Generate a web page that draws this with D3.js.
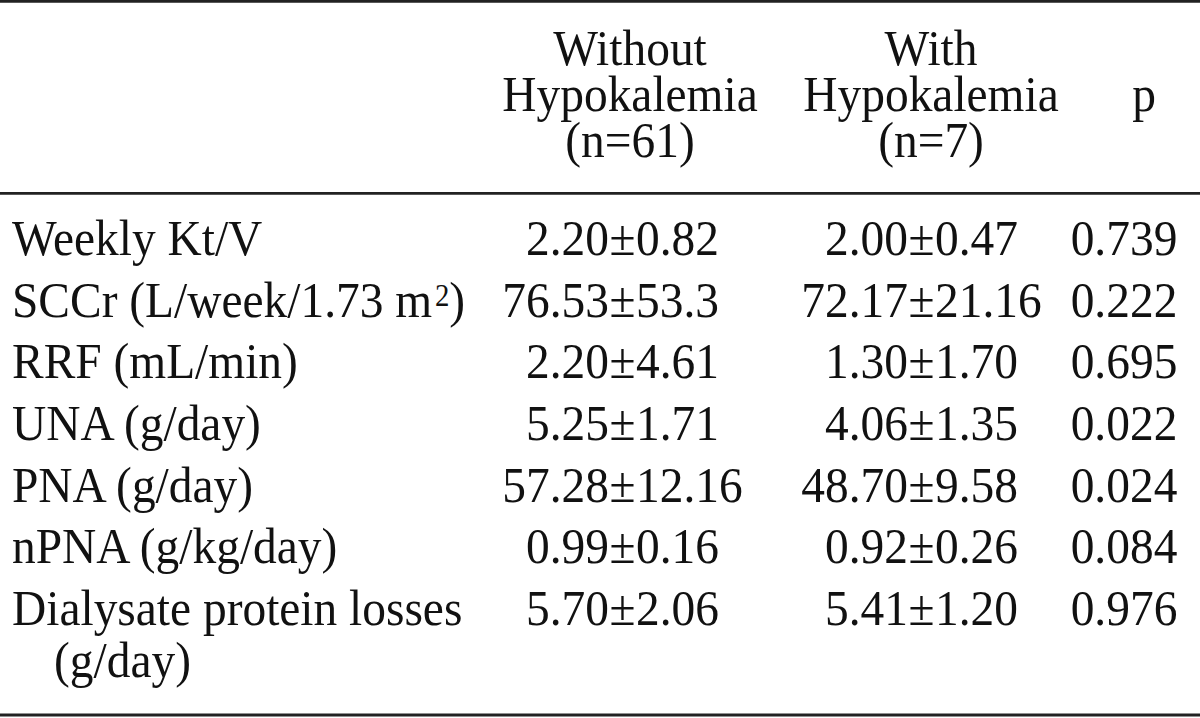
<!DOCTYPE html>
<html>
<head>
<meta charset="utf-8">
<script src="https://cdn.jsdelivr.net/npm/d3@7"></script>
<style>
  body { margin: 0; background: #fff; }
  text { font-family: "Liberation Serif", "Times New Roman", serif; fill: #111; }
</style>
</head>
<body>
<div id="table"></div>
<script>
// table values
var rowLabels = ['Weekly Kt/V', 'SCCr (L/week/1.73 m', 'RRF (mL/min)', 'UNA (g/day)',
  'PNA (g/day)', 'nPNA (g/kg/day)', 'Dialysate protein losses'];
var withoutMean = ['2.20', '76.53', '2.20', '5.25', '57.28', '0.99', '5.70'];
var withoutSD   = ['0.82', '53.3', '4.61', '1.71', '12.16', '0.16', '2.06'];
var withMean    = ['2.00', '72.17', '1.30', '4.06', '48.70', '0.92', '5.41'];
var withSD      = ['0.47', '21.16', '1.70', '1.35', '9.58', '0.26', '1.20'];
var pValues     = ['0.739', '0.222', '0.695', '0.022', '0.024', '0.084', '0.976'];

var headWithout = ['Without', 'Hypokalemia', '(n=61)'];
var headWith    = ['With', 'Hypokalemia', '(n=7)'];

var svgWidth = 1200;
var svgHeight = 718;
var fontSize = 51;
// the printed face is a little narrower than Liberation Serif
var squeeze = 0.93;

var svg = d3.select('#table')
  .append('svg')
  .attr('width', svgWidth)
  .attr('height', svgHeight);

// row baselines and header line baselines
var rowY = d3.scaleLinear().domain([0, rowLabels.length - 1]).range([255, 625]);
var headY = d3.scaleLinear().domain([0, 2]).range([65, 157]);

// column anchors (x of the ± sign for value columns)
var colX = d3.scaleOrdinal()
  .domain(['label', 'without', 'with', 'p', 'headWithout', 'headWith'])
  .range([12, 622.5, 921.5, 1124, 630, 931]);

// put a text at x,y with the horizontal squeeze
function addText(x, y, anchor, str) {
  return svg.append('text')
    .attr('transform', `translate(${x}, ${y}) scale(${squeeze}, 1)`)
    .attr('text-anchor', anchor)
    .attr('font-size', fontSize)
    .text(str);
}

// rules
[1.4, 193.3, 715].forEach(function(y) {
  svg.append('line')
    .attr('x1', 0).attr('x2', svgWidth)
    .attr('y1', y).attr('y2', y)
    .attr('stroke', '#222')
    .attr('stroke-width', 2.8);
});

// header
headWithout.forEach((d, i) => addText(colX('headWithout'), headY(i), 'middle', d));
headWith.forEach((d, i) => addText(colX('headWith'), headY(i), 'middle', d));
addText(1144, headY(1), 'middle', 'p');

// row labels
rowLabels.forEach(function(d, i) {
  var t = addText(colX('label'), rowY(i), 'start', d);
  if (i === 1) {
    // superscript for the SCCr row
    t.append('tspan')
      .attr('font-size', 31)
      .attr('dx', 3)
      .attr('dy', -11)
      .text('2');
    t.append('tspan')
      .attr('dy', 11)
      .text(')');
  }
});

// wrapped second line of the last label
addText(54, rowY(rowLabels.length - 1) + 52, 'start', '(g/day)');

// mean ± SD columns, aligned on the ± sign
function valueColumn(means, sds, key) {
  var cx = colX(key);
  var half = 13.5;
  means.forEach(function(m, i) {
    var y = rowY(i);
    addText(cx - half, y, 'end', m);
    addText(cx, y, 'middle', '\u00b1');
    addText(cx + half, y, 'start', sds[i]);
  });
}
valueColumn(withoutMean, withoutSD, 'without');
valueColumn(withMean, withSD, 'with');

// p values
pValues.forEach((d, i) => addText(colX('p'), rowY(i), 'middle', d));
</script>
</body>
</html>
